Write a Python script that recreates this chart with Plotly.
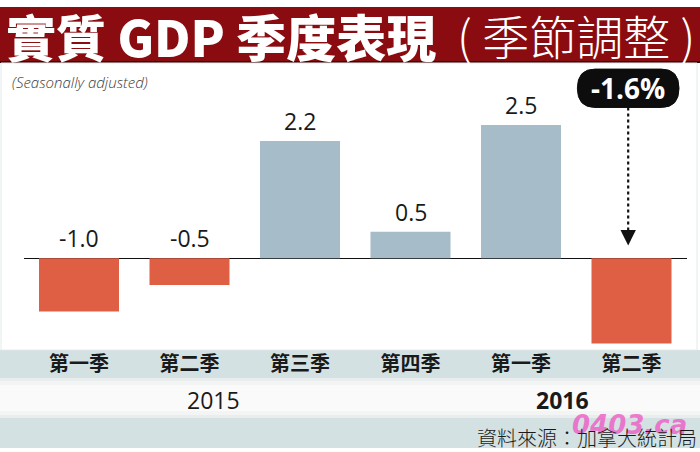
import plotly.graph_objects as go

W, H = 700, 452

# ===== 資料 =====
quarters = ["第一季", "第二季", "第三季", "第四季", "第一季", "第二季"]
years = ["2015", "2016"]
gdp_growth = [-1.0, -0.5, 2.2, 0.5, 2.5, -1.6]
highlight_text = "-1.6%"

CJK = "Noto Sans CJK TC"
RED = "#df5f45"
BLUE = "#a6bcc8"
BAND = "#d3e1e2"


def px(x, y):
    # 像素 -> paper 座標
    return x / W, 1 - y / H


colors = [RED if v < 0 else BLUE for v in gdp_growth]
xs = list(range(len(gdp_growth)))
idx = len(gdp_growth) - 1   # 最新一季，用黑色標籤另外標示

fig = go.Figure()
fig.add_trace(go.Bar(
    x=xs, y=gdp_growth,
    marker=dict(color=colors, line=dict(width=0)),
    hoverinfo="skip",
))

# ===== 背景色帶 =====
shapes = []


def band(y0, y1, color, x0=0, x1=W):
    a0, b0 = px(x0, y0)
    a1, b1 = px(x1, y1)
    shapes.append(dict(type="rect", xref="paper", yref="paper",
                       x0=a0, x1=a1, y0=b1, y1=b0,
                       fillcolor=color, line=dict(width=0), layer="below"))


band(7, 63, "#8a0c10")
band(61, 63, "#3a0406")
band(350, 378, BAND)
band(378, 418, "#e9eded")
band(381, 415, "#f3f4f4")
band(385, 411, "#fafafa")
band(418, 448, BAND)
# 圖區邊框
a0, b0 = px(1, 63)
a1, b1 = px(697, 350)
shapes.append(dict(type="rect", xref="paper", yref="paper", x0=a0, x1=a1, y0=b1, y1=b0,
                   line=dict(color="#e4eaea", width=1), layer="below"))

# ===== -1.6% 標籤（圓角框 + 虛線箭頭）=====
cx, cy = idx - 0.03, 3.19
hw, hh = 0.46, 0.36
rx = 0.16
path = (f"M {cx-hw+rx},{cy+hh} L {cx+hw-rx},{cy+hh} "
        f"Q {cx+hw},{cy+hh} {cx+hw},{cy} "
        f"Q {cx+hw},{cy-hh} {cx+hw-rx},{cy-hh} "
        f"L {cx-hw+rx},{cy-hh} "
        f"Q {cx-hw},{cy-hh} {cx-hw},{cy} "
        f"Q {cx-hw},{cy+hh} {cx-hw+rx},{cy+hh} Z")
shapes.append(dict(type="path", xref="x", yref="y", path=path,
                   fillcolor="#0d0d0d", line=dict(color="#0d0d0d", width=1)))
shapes.append(dict(type="line", xref="x", yref="y", x0=cx, x1=cx, y0=cy - hh, y1=0.45,
                   line=dict(color="#111111", width=2.2, dash="dot")))

annotations = []

# 數值標籤
for i, v in enumerate(gdp_growth):
    if i == idx:
        continue
    annotations.append(dict(
        x=i, y=max(v, 0), xref="x", yref="y",
        text=f"{v:.1f}", showarrow=False, yanchor="middle", yshift=20,
        font=dict(family="Open Sans", size=23, color="#1a1a1a"),
    ))

annotations.append(dict(
    x=cx, y=cy, xref="x", yref="y", text=f"<b>{highlight_text}</b>", showarrow=False,
    font=dict(family="Open Sans", size=28, color="white"),
))
annotations.append(dict(
    x=cx, y=0.24, xref="x", yref="y", text="", showarrow=True,
    ax=0, ay=-14, arrowhead=2, arrowsize=1.4, arrowwidth=2.2, arrowcolor="#111111",
))


def note(text, x, y, size, color="#1a1a1a", family=CJK, xanchor="center", **kw):
    a, b = px(x, y)
    annotations.append(dict(
        x=a, y=b, xref="paper", yref="paper", xanchor=xanchor, yanchor="middle",
        text=text, showarrow=False,
        font=dict(family=family, size=size, color=color, weight=kw.pop("weight", "normal")),
        **kw,
    ))


# 標題
note("實質 GDP 季度表現", 4, 35, 50, "white", xanchor="left", weight=900)
note("( 季節調整 )", 697, 34, 47, "white", xanchor="right", weight=300)
note("<i>(Seasonally adjusted)</i>", 10, 82, 15, "#3a3a3a", family="Open Sans",
     xanchor="left", weight=300)

# 年份
note(years[0], 213, 400, 23, family="Open Sans")
note(years[1], 562, 400, 23, family="Open Sans", weight="bold")

# 水印 + 資料來源
note("<i>0403.ca</i>", 629, 425, 26, "#ee5cc6", family="DejaVu Sans",
     weight="bold", opacity=0.8)
note("資料來源：加拿大統計局", 699, 437, 20, xanchor="right", weight=300)

xd0, _ = px(23.75, 0)
xd1, _ = px(686.75, 0)
_, yd1 = px(0, 63)
_, yd0 = px(0, 350)

fig.update_layout(
    width=W, height=H,
    margin=dict(l=0, r=0, t=0, b=0),
    paper_bgcolor="white", plot_bgcolor="rgba(0,0,0,0)",
    showlegend=False, bargap=0.276,
    shapes=shapes, annotations=annotations,
    xaxis=dict(
        domain=[xd0, xd1], range=[-0.5, len(gdp_growth) - 0.5],
        tickvals=xs, ticktext=quarters,
        tickfont=dict(family=CJK, size=20, color="#1a1a1a", weight="bold"),
        showgrid=False, zeroline=False, showline=False, ticks="",
    ),
    yaxis=dict(
        domain=[yd0, yd1], range=[-1.72, 3.664],
        showgrid=False, showticklabels=False,
        zeroline=True, zerolinecolor="#111111", zerolinewidth=1.3,
    ),
)

# 去掉頁面預設邊距，讓圖貼齊視窗
fig.write_html("out.html", config={"displayModeBar": False},
               post_script="document.body.style.margin='0';")
